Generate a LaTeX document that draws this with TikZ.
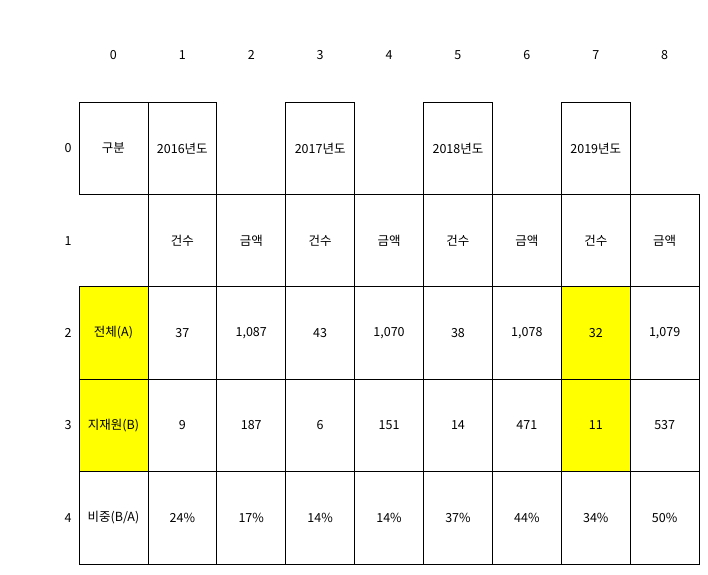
\documentclass[tikz,border=0pt]{standalone}
\usepackage{fontspec}
\setmainfont{Noto Sans CJK KR}
\usepackage{xcolor}
\definecolor{markyellow}{RGB}{255,255,0}

\begin{document}
\begin{tikzpicture}[x=1pt,y=-1pt,
  cell/.style={draw=black,thick,minimum width=68.9pt,minimum height=92.4pt,inner sep=0pt,font=\fontsize{12.5}{14}\selectfont},
  hilite/.style={fill=markyellow},
  plain/.style={},
  idx/.style={font=\fontsize{12.5}{14}\selectfont}]
\useasboundingbox (0,0) rectangle (708,574);
% index labels
\foreach \c in {0,...,8}
  \node[idx] (col\c) at ({79+68.9*(\c+0.5)},55) {\c};
\foreach \r in {0,...,4}
  \node[idx] (row\r) at (68,{102+92.4*(\r+0.5)}) {\r};
% row 0
\foreach \c/\t in {0/구분,1/2016년도,3/2017년도,5/2018년도,7/2019년도}
  \node[cell] (c0\c) at ({79+68.9*(\c+0.5)},{102+92.4*0.5}) {\t};
% row 1
\foreach \c/\t in {1/건수,2/금액,3/건수,4/금액,5/건수,6/금액,7/건수,8/금액}
  \node[cell] (c1\c) at ({79+68.9*(\c+0.5)},{102+92.4*1.5}) {\t};
% row 2
\foreach \c/\t/\s in {0/전체(A)/hilite,1/37/plain,2/{1,087}/plain,3/43/plain,4/{1,070}/plain,5/38/plain,6/{1,078}/plain,7/32/hilite,8/{1,079}/plain}
  \node[cell,\s] (c2\c) at ({79+68.9*(\c+0.5)},{102+92.4*2.5}) {\t};
% row 3
\foreach \c/\t/\s in {0/지재원(B)/hilite,1/9/plain,2/187/plain,3/6/plain,4/151/plain,5/14/plain,6/471/plain,7/11/hilite,8/537/plain}
  \node[cell,\s] (c3\c) at ({79+68.9*(\c+0.5)},{102+92.4*3.5}) {\t};
% row 4
\foreach \c/\t in {0/{비중(B/A)},1/24\%,2/17\%,3/14\%,4/14\%,5/37\%,6/44\%,7/34\%,8/50\%}
  \node[cell] (c4\c) at ({79+68.9*(\c+0.5)},{102+92.4*4.5}) {\t};
\end{tikzpicture}
\end{document}
